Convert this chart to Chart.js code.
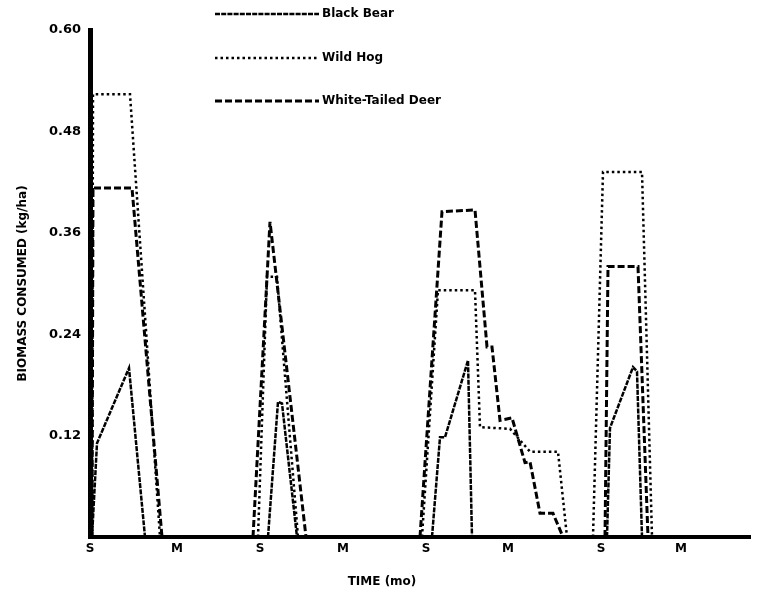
<!DOCTYPE html>
<html>
<head>
<meta charset="utf-8">
<script src="https://cdn.jsdelivr.net/npm/chart.js@4"></script>
<style>
  body { margin: 0; background: #fff; }
  #wrap { width: 764px; height: 597px; }
</style>
</head>
<body>
<div id="wrap"><canvas id="biomass-chart" width="764" height="597"></canvas></div>
<script>
// time axis, in arbitrary month units (S / M marks)
const tickPos = [0, 8.7, 17.0, 25.3, 33.6, 41.8, 51.1, 59.1];
const tickLabels = ['S', 'M', 'S', 'M', 'S', 'M', 'S', 'M'];

// series, one null between the four seasons
const bearX = [0.2, 0.7, 3.9, 5.5, null, 17.8, 18.8, 19.2, 20.7, null, 34.2, 35.0, 35.5, 37.8, 38.2, null, 51.7, 52.0, 54.3, 54.7, 55.2];
const bearY = [0, 0.111, 0.200, 0, null, 0, 0.160, 0.158, 0, null, 0, 0.118, 0.118, 0.209, 0, null, 0, 0.129, 0.201, 0.196, 0];

const hogX = [0.2, 0.3, 4.0, 7.0, null, 16.8, 17.7, 18.7, 20.8, null, 33.2, 34.8, 38.5, 39.0, 42.0, 44.0, 46.8, 47.7, null, 50.3, 51.3, 55.2, 56.2];
const hogY = [0, 0.524, 0.524, 0, null, 0, 0.308, 0.308, 0, null, 0, 0.292, 0.292, 0.130, 0.128, 0.101, 0.101, 0, null, 0, 0.432, 0.432, 0];

const deerX = [0.2, 0.3, 4.2, 7.2, null, 16.3, 18.0, 21.6, null, 33.0, 35.2, 38.5, 39.7, 40.2, 41.0, 42.2, 43.5, 44.0, 45.0, 46.3, 47.3, null, 51.5, 51.8, 54.8, 55.8];
const deerY = [0, 0.413, 0.413, 0, null, 0, 0.373, 0, null, 0, 0.385, 0.387, 0.225, 0.225, 0.138, 0.141, 0.088, 0.089, 0.028, 0.028, 0, null, 0, 0.320, 0.320, 0];

const zip = (xs, ys) => xs.map((x, i) => ({ x: x === null ? NaN : x, y: ys[i] }));

const fontFamily = "'DejaVu Sans', sans-serif";

const data = {
  datasets: [
    {
      label: 'Black Bear',
      data: zip(bearX, bearY),
      borderColor: '#000',
      borderWidth: 2.5,
      borderDash: [5, 1.2]
    },
    {
      label: 'Wild Hog',
      data: zip(hogX, hogY),
      borderColor: '#000',
      borderWidth: 2.5,
      borderDash: [2.5, 3]
    },
    {
      label: 'White-Tailed Deer',
      data: zip(deerX, deerY),
      borderColor: '#000',
      borderWidth: 3,
      borderDash: [7, 3]
    }
  ]
};

// legend at the top and the x title, drawn by hand
const paperLegend = {
  id: 'paperLegend',
  afterDraw(chart) {
    const ctx = chart.ctx;
    const rows = [14, 58, 101];
    ctx.save();
    ctx.fillStyle = '#000';
    ctx.textBaseline = 'middle';
    chart.data.datasets.forEach((ds, i) => {
      const y = rows[i];
      ctx.strokeStyle = '#000';
      ctx.lineWidth = ds.borderWidth;
      ctx.setLineDash(ds.borderDash);
      ctx.beginPath();
      ctx.moveTo(215, y);
      ctx.lineTo(319, y);
      ctx.stroke();
      ctx.setLineDash([]);
      ctx.font = 'bold 12px ' + fontFamily;
      ctx.textAlign = 'left';
      ctx.fillText(ds.label, 322, y);
    });
    ctx.font = 'bold 12px ' + fontFamily;
    ctx.textAlign = 'center';
    ctx.fillText('TIME (mo)', 382, 582);
    ctx.restore();
  }
};

const config = {
  type: 'line',
  data,
  options: {
    responsive: false,
    animation: false,
    spanGaps: false,
    elements: {
      line: { tension: 0, fill: false },
      point: { radius: 0 }
    },
    layout: {
      padding: { top: 30, right: 14, left: 0, bottom: 0 }
    },
    plugins: {
      legend: { display: false },
      tooltip: { enabled: false }
    },
    scales: {
      x: {
        type: 'linear',
        min: 0,
        max: 66,
        afterFit: scale => { scale.height = 60; },
        afterBuildTicks: scale => { scale.ticks = tickPos.map(v => ({ value: v })); },
        grid: { display: false, drawTicks: false },
        border: { display: true, color: '#000', width: 4 },
        ticks: {
          color: '#000',
          padding: 5,
          autoSkip: false,
          maxRotation: 0,
          font: { family: fontFamily, weight: 'bold', size: 12 },
          callback: (v, i) => tickLabels[i]
        }
      },
      y: {
        min: 0,
        max: 0.6,
        afterFit: scale => { scale.width = 90; },
        grid: { display: false, drawTicks: false },
        border: { display: true, color: '#000', width: 5 },
        ticks: {
          stepSize: 0.12,
          color: '#000',
          padding: 9,
          font: { family: fontFamily, weight: 'bold', size: 13 },
          callback: v => (v === 0 ? '' : v.toFixed(2))
        },
        title: {
          display: true,
          text: 'BIOMASS CONSUMED (kg/ha)',
          color: '#000',
          padding: { top: 16, bottom: 0 },
          font: { family: fontFamily, weight: 'bold', size: 12 }
        }
      }
    }
  },
  plugins: [paperLegend]
};

document.addEventListener('DOMContentLoaded', function () {
  const ctx = document.getElementById('biomass-chart').getContext('2d');
  new Chart(ctx, config);
});
</script>
</body>
</html>
